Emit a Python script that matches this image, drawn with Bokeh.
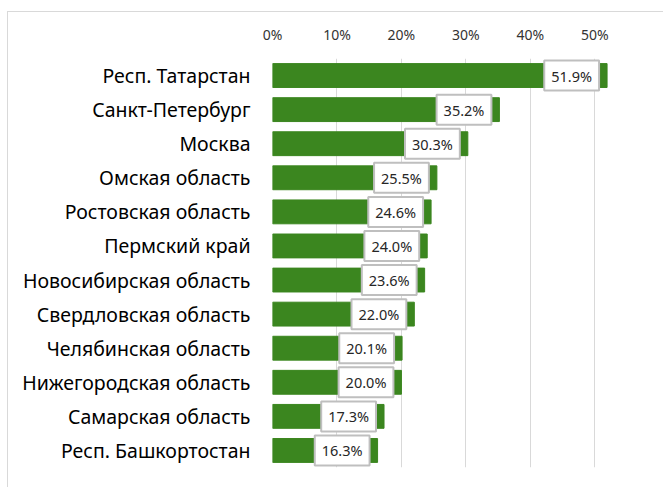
from bokeh.plotting import figure
from bokeh.models import ColumnDataSource, FactorRange, Range1d, FixedTicker, NumeralTickFormatter
from bokeh.core.properties import value
from bokeh.embed import file_html
from bokeh.resources import INLINE

regions = ["Респ. Татарстан", "Санкт-Петербург", "Москва", "Омская область",
           "Ростовская область", "Пермский край", "Новосибирская область",
           "Свердловская область", "Челябинская область", "Нижегородская область",
           "Самарская область", "Респ. Башкортостан"]
shares = [51.9, 35.2, 30.3, 25.5, 24.6, 24.0, 23.6, 22.0, 20.1, 20.0, 17.3, 16.3]
tick_values = [0, 10, 20, 30, 40, 50]

FONT = "Noto Sans"

src = ColumnDataSource(dict(
    region=regions,
    share=[v / 100 for v in shares],
    label=[f"{v:.1f}%" for v in shares],
))

p = figure(width=656, height=476, output_backend="svg", toolbar_location=None,
           y_range=FactorRange(factors=list(reversed(regions)), range_padding=0),
           x_range=Range1d(0, 0.56), x_axis_location="above",
           min_border_left=264, min_border_right=31, min_border_top=46, min_border_bottom=21)
p.margin = (11, 0, 0, 7)
p.styles = {"border-left": "1px solid #d9d9d9", "border-top": "1px solid #d9d9d9"}

p.hbar(y="region", right="share", height=0.7, source=src, color="#3b861f")

p.text(x="share", y="region", text="label", source=src,
       text_align="right", text_baseline="middle", x_offset=-8,
       text_font=value(FONT), text_font_size="14.5px", text_color="#262626",
       background_fill_color="white", border_line_color="#bfbfbf", border_line_width=2,
       padding=dict(left=7, right=7, top=5, bottom=5))

p.outline_line_color = None
p.ygrid.grid_line_color = None
p.xgrid.grid_line_color = "#d9d9d9"
p.xgrid.ticker = FixedTicker(ticks=[t / 100 for t in tick_values])

xa = p.xaxis[0]
xa.ticker = FixedTicker(ticks=[t / 100 for t in tick_values])
xa.formatter = NumeralTickFormatter(format="0%")
xa.axis_line_color = None
xa.major_tick_line_color = None
xa.minor_tick_line_color = None
xa.major_label_text_font = FONT
xa.major_label_text_font_size = "14px"
xa.major_label_text_color = "#333333"
xa.major_label_standoff = 9

ya = p.yaxis[0]
ya.axis_line_color = None
ya.major_tick_line_color = None
ya.minor_tick_line_color = None
ya.major_label_text_font = FONT
ya.major_label_text_font_size = "19.5px"
ya.major_label_text_color = "#000000"
ya.major_label_standoff = 16

open("out.html", "w").write(file_html(p, INLINE))
